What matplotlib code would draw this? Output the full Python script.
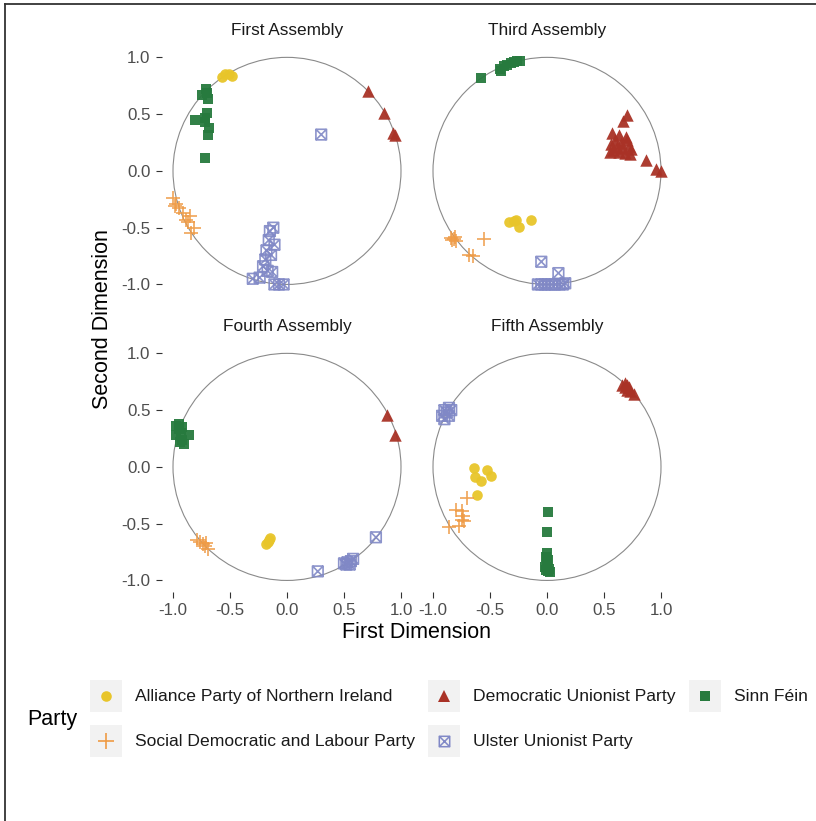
import numpy as np
import matplotlib.pyplot as plt
import matplotlib.patches as patches
from matplotlib.lines import Line2D
from matplotlib.path import Path
from matplotlib.legend_handler import HandlerLine2D

plt.rcParams['font.family'] = ['Liberation Sans', 'DejaVu Sans']
plt.rcParams['axes.unicode_minus'] = False

# Parties, colours and panel titles
parties = ['Alliance Party of Northern Ireland', 'Democratic Unionist Party', 'Sinn Féin',
           'Social Democratic and Labour Party', 'Ulster Unionist Party']
party_colors = ['#E8C52A', '#A93226', '#277A3E', '#EF9B45', '#8088C6']
assemblies = ['First Assembly', 'Third Assembly', 'Fourth Assembly', 'Fifth Assembly']

# First Assembly
first_apni_x = [-0.57, -0.54, -0.51, -0.48]
first_apni_y = [0.83, 0.85, 0.85, 0.84]
first_dup_x = [0.71, 0.85, 0.93, 0.95]
first_dup_y = [0.70, 0.51, 0.33, 0.32]
first_sf_x = [-0.71, -0.75, -0.69, -0.70, -0.81, -0.72, -0.68, -0.69, -0.72, -0.72, -0.70]
first_sf_y = [0.72, 0.67, 0.63, 0.51, 0.45, 0.43, 0.38, 0.32, 0.11, 0.47, 0.69]
first_sdlp_x = [-1.00, -0.97, -0.95, -0.91, -0.85, -0.87, -0.82, -0.84, -0.89, -0.98]
first_sdlp_y = [-0.24, -0.29, -0.33, -0.37, -0.40, -0.45, -0.50, -0.55, -0.43, -0.31]
first_uup_x = [0.30, -0.12, -0.15, -0.16, -0.11, -0.18, -0.19, -0.21, -0.13, -0.30, -0.24, -0.11, -0.03, -0.14, -0.17, -0.07]
first_uup_y = [0.32, -0.50, -0.53, -0.61, -0.65, -0.70, -0.78, -0.84, -0.89, -0.95, -0.94, -1.00, -1.00, -0.74, -0.88, -1.00]

# Third Assembly
third_apni_x = [-0.33, -0.29, -0.27, -0.25, -0.14]
third_apni_y = [-0.45, -0.44, -0.43, -0.49, -0.43]
third_dup_x = [0.70, 0.67, 0.57, 0.63, 0.56, 0.60, 0.65, 0.70, 0.72, 0.58, 0.63, 0.68, 0.73, 0.61, 0.66, 0.69, 0.55, 0.74, 0.87, 0.96, 1.00]
third_dup_y = [0.49, 0.44, 0.33, 0.32, 0.24, 0.27, 0.25, 0.27, 0.22, 0.18, 0.17, 0.16, 0.15, 0.21, 0.20, 0.30, 0.17, 0.19, 0.10, 0.02, 0.00]
third_sf_x = [-0.58, -0.41, -0.38, -0.35, -0.32, -0.29, -0.26, -0.24, -0.40]
third_sf_y = [0.82, 0.90, 0.92, 0.93, 0.95, 0.96, 0.97, 0.97, 0.88]
third_sdlp_x = [-0.84, -0.82, -0.80, -0.81, -0.83, -0.55, -0.68, -0.65]
third_sdlp_y = [-0.59, -0.60, -0.62, -0.58, -0.61, -0.60, -0.74, -0.75]
third_uup_x = [-0.05, 0.10, 0.16, -0.08, -0.05, -0.02, 0.01, 0.04, 0.07, 0.11, 0.14]
third_uup_y = [-0.80, -0.90, -0.99, -1.00, -1.00, -1.00, -1.00, -1.00, -1.00, -1.00, -1.00]

# Fourth Assembly
fourth_apni_x = [-0.18, -0.17, -0.16, -0.15]
fourth_apni_y = [-0.68, -0.66, -0.64, -0.63]
fourth_dup_x = [0.88, 0.95]
fourth_dup_y = [0.46, 0.28]
fourth_sf_x = [-0.97, -0.95, -0.97, -0.93, -0.92, -0.90, -0.86, -0.95, -0.92, -0.94]
fourth_sf_y = [0.36, 0.33, 0.28, 0.30, 0.24, 0.20, 0.28, 0.38, 0.35, 0.22]
fourth_sdlp_x = [-0.76, -0.72, -0.69, -0.79, -0.74, -0.71]
fourth_sdlp_y = [-0.66, -0.70, -0.72, -0.64, -0.68, -0.67]
fourth_uup_x = [0.78, 0.27, 0.50, 0.53, 0.56, 0.58, 0.52, 0.55]
fourth_uup_y = [-0.62, -0.92, -0.85, -0.84, -0.83, -0.81, -0.86, -0.86]

# Fifth Assembly
fifth_apni_x = [-0.64, -0.53, -0.49, -0.63, -0.58, -0.61]
fifth_apni_y = [-0.01, -0.03, -0.08, -0.09, -0.12, -0.25]
fifth_dup_x = [0.66, 0.68, 0.70, 0.73, 0.76, 0.70, 0.72, 0.68]
fifth_dup_y = [0.72, 0.70, 0.68, 0.67, 0.64, 0.72, 0.70, 0.74]
fifth_sf_x = [0.01, 0.00, 0.00, -0.01, 0.01, 0.00, -0.02, 0.02, 0.01, 0.03, -0.01]
fifth_sf_y = [-0.40, -0.57, -0.76, -0.79, -0.82, -0.85, -0.88, -0.90, -0.92, -0.93, -0.91]
fifth_sdlp_x = [-0.70, -0.80, -0.75, -0.74, -0.75, -0.73, -0.86, -0.77]
fifth_sdlp_y = [-0.27, -0.38, -0.39, -0.43, -0.47, -0.48, -0.53, -0.52]
fifth_uup_x = [-0.90, -0.88, -0.86, -0.92, -0.90, -0.86, -0.84]
fifth_uup_y = [0.50, 0.48, 0.52, 0.45, 0.42, 0.45, 0.50]

panel_data = [
    [(first_apni_x, first_apni_y), (first_dup_x, first_dup_y), (first_sf_x, first_sf_y),
     (first_sdlp_x, first_sdlp_y), (first_uup_x, first_uup_y)],
    [(third_apni_x, third_apni_y), (third_dup_x, third_dup_y), (third_sf_x, third_sf_y),
     (third_sdlp_x, third_sdlp_y), (third_uup_x, third_uup_y)],
    [(fourth_apni_x, fourth_apni_y), (fourth_dup_x, fourth_dup_y), (fourth_sf_x, fourth_sf_y),
     (fourth_sdlp_x, fourth_sdlp_y), (fourth_uup_x, fourth_uup_y)],
    [(fifth_apni_x, fifth_apni_y), (fifth_dup_x, fifth_dup_y), (fifth_sf_x, fifth_sf_y),
     (fifth_sdlp_x, fifth_sdlp_y), (fifth_uup_x, fifth_uup_y)],
]

# square with a cross inside (like R shape 7)
boxx = Path([(-1, -1), (1, -1), (1, 1), (-1, 1), (-1, -1), (-1, -1), (1, 1), (-1, 1), (1, -1)],
            [Path.MOVETO, Path.LINETO, Path.LINETO, Path.LINETO, Path.CLOSEPOLY,
             Path.MOVETO, Path.LINETO, Path.MOVETO, Path.LINETO])
party_markers = ['o', '^', 's', '+', boxx]
party_sizes = [58, 80, 55, 110, 58]


class CenteredMarker(HandlerLine2D):
    # put the legend marker in the middle of the grey key box
    def create_artists(self, legend, orig_handle, xdescent, ydescent, width, height, fontsize, trans):
        arts = super().create_artists(legend, orig_handle, xdescent, ydescent, width, height, fontsize, trans)
        for a in arts:
            n = len(a.get_xdata())
            a.set_xdata([width / 2 - xdescent] * n)
            a.set_ydata([height / 2 - ydescent] * n)
        return arts


W, H = 816, 821
fig = plt.figure(figsize=(W / 100, H / 100), dpi=100)

# panel placement in pixels (left, top)
lefts = [161.6, 421.6]
tops = [46.0, 342.0]
pw, ph = 250.8, 249.8

axes = []
for i, title in enumerate(assemblies):
    r, c = divmod(i, 2)
    ax = fig.add_axes([lefts[c] / W, 1 - (tops[r] + ph) / H, pw / W, ph / H])
    ax.set_xlim(-1.1, 1.1)
    ax.set_ylim(-1.1, 1.1)
    for s in ax.spines.values():
        s.set_visible(False)
    ax.add_patch(patches.Circle((0, 0), 1, fill=False, edgecolor='#8a8a8a', linewidth=0.8))
    for j, (xs, ys) in enumerate(panel_data[i]):
        m = party_markers[j]
        if m is boxx:
            ax.scatter(xs, ys, marker=m, s=party_sizes[j], facecolors='none',
                       edgecolors=party_colors[j], linewidths=1.2, alpha=0.9, zorder=3)
        elif m == '+':
            ax.scatter(xs, ys, marker=m, s=party_sizes[j], color=party_colors[j],
                       linewidths=1.2, alpha=0.9, zorder=3)
        else:
            ax.scatter(xs, ys, marker=m, s=party_sizes[j], color=party_colors[j],
                       linewidths=0, alpha=0.95, zorder=3)
    ax.text(0.5, 1 + 15 / ph, title, transform=ax.transAxes, ha='center', va='center',
            fontsize=12.4, color='#1a1a1a')
    ax.set_xticks([-1.0, -0.5, 0.0, 0.5, 1.0])
    ax.set_yticks([-1.0, -0.5, 0.0, 0.5, 1.0])
    ax.tick_params(length=4, width=0.8, color='#333333', pad=4, labelsize=12.2, labelcolor='#4d4d4d')
    if c == 1:
        ax.tick_params(left=False, labelleft=False)
    if r == 0:
        ax.tick_params(bottom=False, labelbottom=False)
    axes.append(ax)

fig.text(417 / W, 1 - 633 / H, 'First Dimension', ha='center', va='center', fontsize=15.5, color='#000000')
fig.text(103 / W, 1 - 319 / H, 'Second Dimension', ha='center', va='center', rotation=90, fontsize=15.5, color='#000000')

# legend with grey key boxes
handles = []
for j in range(len(parties)):
    bg = patches.Patch(facecolor='#f2f2f2', edgecolor='none')
    if party_markers[j] is boxx:
        mk = Line2D([], [], marker=boxx, markersize=7.5, markerfacecolor='none', markeredgecolor=party_colors[j],
                    markeredgewidth=1.1, linestyle='none')
    elif party_markers[j] == '+':
        mk = Line2D([], [], marker='+', markersize=11, color=party_colors[j], markeredgewidth=1.2, linestyle='none')
    else:
        mk = Line2D([], [], marker=party_markers[j], markersize=np.sqrt(party_sizes[j]) * 1.0, color=party_colors[j],
                    markeredgewidth=0, linestyle='none')
    handles.append((bg, mk))

order = [0, 3, 1, 4, 2]
leg = fig.legend([handles[k] for k in order], [parties[k] for k in order], ncol=3,
                 loc='upper left', bbox_to_anchor=(90 / W, 1 - 680 / H), frameon=False,
                 borderpad=0, borderaxespad=0, fontsize=12.6, handlelength=1.83, handleheight=2.44,
                 handletextpad=0.75, columnspacing=0.75, labelspacing=0.74,
                 handler_map={Line2D: CenteredMarker()})
for t in leg.get_texts():
    t.set_color('#1a1a1a')
fig.text(27 / W, 1 - 719 / H, 'Party', ha='left', va='center', fontsize=15.5, color='#000000')

# outer border (left and top only visible)
fig.add_artist(Line2D([5 / W, 5 / W], [0, 1 - 4 / H], transform=fig.transFigure, color='#333333', linewidth=1.3))
fig.add_artist(Line2D([5 / W, 1], [1 - 4 / H, 1 - 4 / H], transform=fig.transFigure, color='#333333', linewidth=1.3))

fig.savefig('out.png', dpi=100)
